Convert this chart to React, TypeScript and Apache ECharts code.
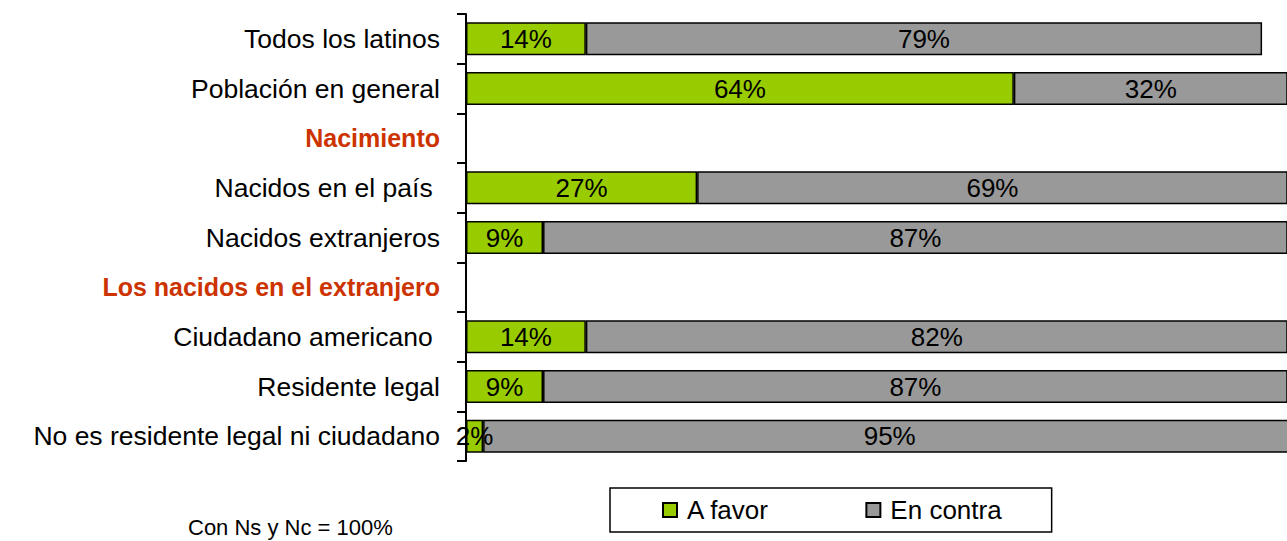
import React, { useEffect, useRef } from "react";
import * as echarts from "echarts";

const categories = [
  "Todos los latinos",
  "Población en general",
  "Nacimiento",
  "Nacidos en el país ",
  "Nacidos extranjeros",
  "Los nacidos en el extranjero",
  "Ciudadano americano ",
  "Residente legal",
  "No es residente legal ni ciudadano",
];
const headerCategories = ["Nacimiento", "Los nacidos en el extranjero"];
const aFavor = [14, 64, null, 27, 9, null, 14, 9, 2];
const enContra = [79, 32, null, 69, 87, null, 82, 87, 95];
const seriesNames = ["A favor", "En contra"];
const footnote = "Con Ns y Nc = 100%";

const FONT = "'Liberation Sans', Arial, sans-serif";

export default function App() {
  const ref = useRef<HTMLDivElement>(null);
  useEffect(() => {
    if (!ref.current) return;
    const chart = echarts.init(ref.current, null, { renderer: "svg" });
    const barLabel = {
      show: true,
      position: "inside",
      color: "#000",
      fontSize: 26,
      fontFamily: FONT,
      formatter: (p: any) => (p.value == null ? "" : p.value + "%"),
    };
    chart.setOption({
      animation: false,
      backgroundColor: "#fff",
      textStyle: { fontFamily: FONT },
      grid: { left: 466, right: 8, top: 14, bottom: 80, containLabel: false },
      xAxis: { type: "value", min: 0, max: 100, show: false },
      yAxis: {
        type: "category",
        inverse: true,
        data: categories,
        axisLine: { show: true, lineStyle: { color: "#000", width: 2 } },
        axisTick: { show: true, length: 9, lineStyle: { color: "#000", width: 2 } },
        axisLabel: {
          margin: 26,
          fontFamily: FONT,
          formatter: (v: string) =>
            headerCategories.includes(v) ? `{h|${v}}` : `{n|${v}}`,
          rich: {
            n: { fontSize: 26.5, color: "#000", fontFamily: FONT },
            h: { fontSize: 25, color: "#CC3300", fontWeight: "bold", fontFamily: FONT },
          },
        },
        splitLine: { show: false },
      },
      legend: {
        left: 610,
        top: 488,
        padding: [9, 50, 9, 52],
        borderColor: "#000",
        borderWidth: 1.5,
        itemWidth: 14,
        itemHeight: 14,
        itemGap: 96,
        icon: "rect",
        textStyle: { fontSize: 26, color: "#000", fontFamily: FONT, padding: [0, 0, 0, 5] },
        data: seriesNames,
      },
      graphic: [
        {
          type: "text",
          left: 188,
          top: 516,
          style: { text: footnote, fontSize: 22, fill: "#000", fontFamily: FONT },
        },
      ],
      series: [
        {
          name: seriesNames[0],
          type: "bar",
          stack: "total",
          barWidth: 33,
          data: aFavor,
          itemStyle: { color: "#99CC00", borderColor: "#000", borderWidth: 1.5 },
          label: barLabel,
        },
        {
          name: seriesNames[1],
          type: "bar",
          stack: "total",
          barWidth: 33,
          data: enContra,
          itemStyle: { color: "#999999", borderColor: "#000", borderWidth: 1.5 },
          label: barLabel,
        },
      ],
    });
    return () => chart.dispose();
  }, []);
  return (
    <div
      style={{
        position: "absolute",
        left: 0,
        top: 0,
        width: 1287,
        height: 541,
        overflow: "hidden",
        background: "#fff",
      }}
    >
      <div ref={ref} style={{ width: 1330, height: 541 }} />
    </div>
  );
}
